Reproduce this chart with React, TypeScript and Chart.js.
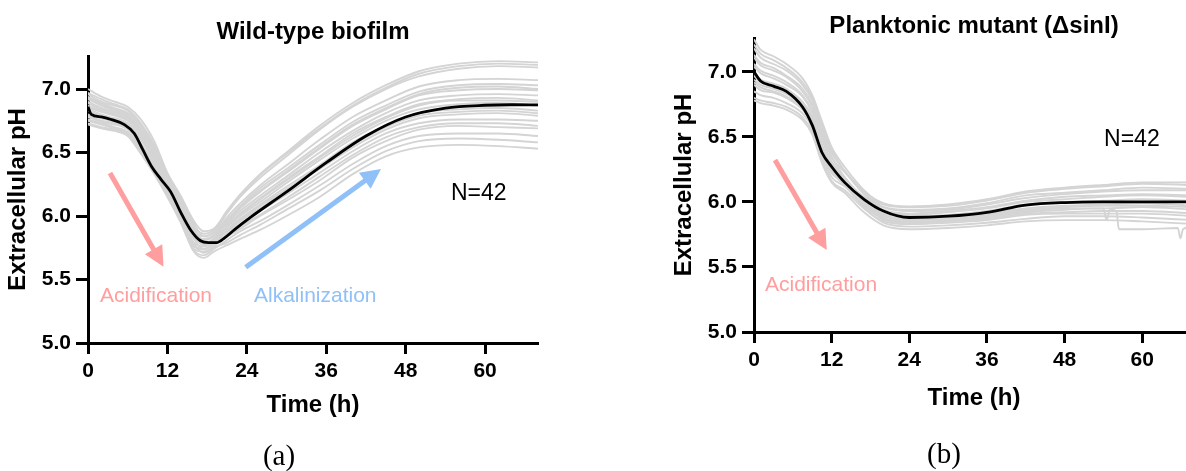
import React, { useEffect, useRef } from "react";
import { Chart, registerables } from "chart.js";

Chart.register(...registerables);

const FONT = '"Liberation Sans", Arial, Helvetica, sans-serif';
const PAGE_H = 471;
const X_AXIS_H = 50;

// ---------- axes ----------
const X_MIN = 0;
const X_MAX = 68;
const Y_MIN = 5.0;
const Y_MAX = 7.26;
const xTickValues = [0, 12, 24, 36, 48, 60];
const yTickValues = [5.0, 5.5, 6.0, 6.5, 7.0];

// ---------- wild-type biofilm ----------
const wtTimes = [0, 2, 4, 6, 8, 10, 12, 14, 16, 17.5, 19, 21, 23, 26, 30, 35, 40, 45, 50, 56, 62, 68];
const wtMeanTimes = [0, 0.5, 2, 3.5, 5.5, 7, 8.3, 9.6, 11, 12.5, 14, 15.5, 17, 18.2, 19.4, 20.7, 22.2, 24.7, 30, 36, 42, 48, 54, 60, 64, 68];
const wtMean = [6.86, 6.8, 6.78, 6.76, 6.72, 6.65, 6.52, 6.39, 6.29, 6.19, 6.03, 5.89, 5.805, 5.79, 5.79, 5.83, 5.895, 5.995, 6.19, 6.42, 6.63, 6.78, 6.85, 6.872, 6.876, 6.875];
// individual wells (pH at wtTimes)
const wtWells = [
  [6.96, 6.9, 6.87, 6.83, 6.72, 6.55, 6.31, 6.13, 5.92, 5.86, 5.89, 6.04, 6.17, 6.33, 6.5, 6.71, 6.89, 7.03, 7.14, 7.2, 7.22, 7.21],
  [7.0, 6.94, 6.9, 6.86, 6.76, 6.59, 6.34, 6.16, 5.96, 5.88, 5.9, 6.03, 6.16, 6.32, 6.49, 6.69, 6.87, 7.01, 7.12, 7.18, 7.2, 7.19],
  [6.92, 6.87, 6.83, 6.79, 6.68, 6.51, 6.28, 6.1, 5.89, 5.84, 5.87, 6.02, 6.15, 6.3, 6.47, 6.68, 6.86, 7.0, 7.1, 7.16, 7.18, 7.17],
  [6.89, 6.84, 6.81, 6.77, 6.65, 6.49, 6.26, 6.08, 5.86, 5.82, 5.85, 5.99, 6.1, 6.24, 6.4, 6.6, 6.78, 6.91, 7.02, 7.07, 7.08, 7.07],
  [6.97, 6.92, 6.88, 6.84, 6.73, 6.56, 6.32, 6.14, 5.94, 5.84, 5.87, 5.97, 6.08, 6.22, 6.37, 6.56, 6.74, 6.87, 6.98, 7.03, 7.04, 7.03],
  [6.85, 6.8, 6.77, 6.73, 6.61, 6.45, 6.24, 6.04, 5.83, 5.79, 5.82, 5.95, 6.06, 6.19, 6.34, 6.53, 6.71, 6.84, 6.95, 6.99, 7.0, 6.99],
  [6.93, 6.88, 6.84, 6.8, 6.69, 6.53, 6.29, 6.11, 5.9, 5.81, 5.84, 5.94, 6.04, 6.16, 6.31, 6.5, 6.67, 6.81, 6.91, 6.95, 6.96, 6.95],
  [6.8, 6.77, 6.74, 6.7, 6.57, 6.41, 6.21, 6.01, 5.79, 5.76, 5.8, 5.92, 6.02, 6.14, 6.29, 6.47, 6.65, 6.78, 6.88, 6.92, 6.93, 6.91],
  [6.87, 6.83, 6.8, 6.76, 6.64, 6.47, 6.25, 6.07, 5.85, 5.78, 5.82, 5.91, 6.0, 6.11, 6.26, 6.44, 6.61, 6.75, 6.84, 6.88, 6.89, 6.87],
  [6.78, 6.74, 6.72, 6.68, 6.54, 6.38, 6.19, 5.99, 5.77, 5.74, 5.78, 5.89, 5.98, 6.09, 6.23, 6.4, 6.58, 6.71, 6.81, 6.84, 6.85, 6.83],
  [6.9, 6.85, 6.82, 6.78, 6.67, 6.5, 6.27, 6.09, 5.88, 5.78, 5.81, 5.88, 5.96, 6.06, 6.2, 6.37, 6.54, 6.68, 6.77, 6.8, 6.81, 6.79],
  [6.75, 6.72, 6.69, 6.65, 6.52, 6.36, 6.17, 5.97, 5.74, 5.72, 5.76, 5.86, 5.94, 6.04, 6.17, 6.34, 6.51, 6.65, 6.73, 6.76, 6.76, 6.75],
  [6.83, 6.79, 6.76, 6.72, 6.6, 6.43, 6.23, 6.03, 5.82, 5.74, 5.78, 5.85, 5.92, 6.01, 6.14, 6.31, 6.48, 6.62, 6.7, 6.73, 6.73, 6.71],
  [6.73, 6.7, 6.68, 6.64, 6.5, 6.34, 6.16, 5.96, 5.73, 5.69, 5.74, 5.81, 5.88, 5.96, 6.08, 6.24, 6.41, 6.55, 6.63, 6.65, 6.65, 6.63],
  [6.79, 6.75, 6.73, 6.69, 6.56, 6.4, 6.2, 6.0, 5.78, 5.71, 5.75, 5.79, 5.85, 5.93, 6.05, 6.2, 6.37, 6.51, 6.59, 6.61, 6.6, 6.58],
  [6.72, 6.69, 6.67, 6.63, 6.49, 6.33, 6.15, 5.95, 5.72, 5.67, 5.72, 5.77, 5.82, 5.89, 6.0, 6.15, 6.33, 6.47, 6.54, 6.56, 6.55, 6.53],
  [6.89, 6.85, 6.81, 6.77, 6.66, 6.49, 6.27, 6.08, 5.87, 5.81, 5.84, 5.96, 6.07, 6.2, 6.35, 6.54, 6.72, 6.85, 6.96, 7.01, 7.02, 7.0],
  [6.76, 6.73, 6.7, 6.66, 6.53, 6.37, 6.18, 5.98, 5.76, 5.74, 5.78, 5.92, 6.01, 6.13, 6.28, 6.46, 6.63, 6.77, 6.87, 6.91, 6.91, 6.9],
  [6.86, 6.82, 6.79, 6.75, 6.63, 6.46, 6.25, 6.06, 5.84, 5.77, 5.8, 5.88, 5.97, 6.08, 6.21, 6.39, 6.56, 6.7, 6.79, 6.82, 6.83, 6.81],
  [6.94, 6.89, 6.85, 6.81, 6.71, 6.54, 6.3, 6.12, 5.91, 5.78, 5.81, 5.84, 5.9, 6.0, 6.12, 6.28, 6.46, 6.59, 6.68, 6.71, 6.7, 6.69],
];

// ---------- planktonic mutant ----------
const sinTimes = [0, 1, 3, 5, 7.5, 9, 10.5, 12, 14, 17, 20, 24, 30, 36, 42, 48, 54, 60, 68];
const sinMean = [7.0, 6.93, 6.89, 6.85, 6.73, 6.59, 6.38, 6.27, 6.15, 6.02, 5.93, 5.88, 5.89, 5.92, 5.975, 5.995, 6.0, 6.0, 6.0];
const sinWells = [
  [7.25, 7.17, 7.12, 7.06, 6.95, 6.82, 6.62, 6.42, 6.27, 6.09, 5.98, 5.96, 5.97, 6.01, 6.07, 6.1, 6.12, 6.14, 6.13],
  [7.18, 7.11, 7.06, 7.01, 6.9, 6.78, 6.57, 6.38, 6.24, 6.07, 5.96, 5.93, 5.94, 5.98, 6.03, 6.06, 6.08, 6.09, 6.09],
  [7.11, 7.05, 7.01, 6.96, 6.85, 6.73, 6.52, 6.34, 6.23, 6.08, 5.99, 5.965, 5.98, 6.02, 6.08, 6.11, 6.13, 6.15, 6.15],
  [7.06, 7.01, 6.97, 6.92, 6.82, 6.7, 6.49, 6.31, 6.19, 6.02, 5.91, 5.89, 5.9, 5.93, 5.98, 6.0, 6.01, 6.02, 6.01],
  [7.21, 7.14, 7.09, 7.03, 6.92, 6.8, 6.59, 6.4, 6.24, 6.06, 5.94, 5.91, 5.93, 5.96, 6.01, 6.04, 6.05, 6.06, 6.05],
  [6.99, 6.94, 6.91, 6.87, 6.77, 6.66, 6.44, 6.27, 6.17, 6.03, 5.93, 5.9, 5.92, 5.95, 6.0, 6.02, 6.04, 6.05, 6.04],
  [7.04, 6.99, 6.95, 6.9, 6.81, 6.69, 6.48, 6.3, 6.17, 6.0, 5.88, 5.85, 5.86, 5.89, 5.93, 5.95, 5.95, 5.96, 5.94],
  [6.94, 6.9, 6.87, 6.83, 6.74, 6.63, 6.41, 6.24, 6.15, 6.0, 5.9, 5.87, 5.88, 5.91, 5.95, 5.97, 5.98, 5.99, 5.97],
  [7.13, 7.07, 7.03, 6.97, 6.87, 6.75, 6.54, 6.35, 6.19, 6.0, 5.86, 5.83, 5.85, 5.87, 5.91, 5.92, 5.93, 5.93, 5.91],
  [6.9, 6.86, 6.84, 6.8, 6.71, 6.6, 6.38, 6.22, 6.16, 6.04, 5.96, 5.94, 5.95, 5.99, 6.05, 6.07, 6.09, 6.11, 6.1],
  [6.85, 6.82, 6.8, 6.76, 6.68, 6.57, 6.35, 6.19, 6.12, 5.98, 5.89, 5.86, 5.87, 5.9, 5.94, 5.96, 5.97, 5.97, 5.96],
  [6.97, 6.92, 6.89, 6.85, 6.76, 6.64, 6.43, 6.26, 6.13, 5.96, 5.84, 5.81, 5.82, 5.84, 5.87, 5.89, 5.89, 5.88, 5.86],
  [6.8, 6.78, 6.76, 6.73, 6.65, 6.54, 6.32, 6.16, 6.09, 5.95, 5.85, 5.83, 5.84, 5.86, 5.9, 5.91, 5.91, 5.91, 5.89],
  [6.78, 6.76, 6.74, 6.71, 6.63, 6.52, 6.3, 6.15, 6.07, 5.92, 5.82, 5.79, 5.8, 5.82, 5.85, 5.86, 5.86, 5.85, 5.83],
];
// one well with a late sensor glitch
const sinGlitchTimes = [0, 1, 3, 5, 7.5, 9, 10.5, 12, 14, 17, 20, 24, 30, 36, 42, 48, 54, 54.5, 55, 56, 56.4, 60, 65.5, 65.9, 66.3, 68];
const sinGlitch = [6.92, 6.88, 6.85, 6.81, 6.73, 6.61, 6.4, 6.23, 6.13, 5.97, 5.87, 5.84, 5.85, 5.88, 5.92, 5.94, 5.95, 5.86, 5.94, 5.93, 5.79, 5.79, 5.8, 5.72, 5.79, 5.81];

// ---------- styling ----------
const WELL_GREY = "#d4d4d4";
const WELL_WIDTH = 1.9;
const MEAN_WIDTH = 2.8;
const ACID = "#ff9e9e";
const ALKA = "#8fc0f7";
const ARROW_SHAFT = 5;
const ARROW_HEAD_LEN = 20;
const ARROW_HEAD_HALF = 10;

type Pt = [number, number];
interface Arrow { from: Pt; to: Pt; color: string }
interface Note { text: string; at: Pt; color: string; size: number }
interface Series { times: number[]; values: number[]; mean?: boolean }
interface PanelSpec {
  canvasLeft: number;
  canvasWidth: number;
  plot: { left: number; right: number; top: number; bottom: number };
  title: string;
  titleY: number;
  xTitleGap: number;
  yTitleGap: number;
  series: Series[];
  arrows: Arrow[];
  notes: Note[];
}

const wtPanel: PanelSpec = {
  canvasLeft: 0,
  canvasWidth: 560,
  plot: { left: 88, right: 538, top: 56, bottom: 343 },
  title: "Wild-type biofilm",
  titleY: 32.5,
  xTitleGap: 62,
  yTitleGap: 70,
  series: [
    { times: wtMeanTimes, values: wtMean, mean: true },
    ...wtWells.map((w) => ({ times: wtTimes, values: w })),
  ],
  arrows: [
    { from: [3.32, 6.339], to: [11.41, 5.601], color: ACID },
    { from: [23.83, 5.596], to: [44.27, 6.37], color: ALKA },
  ],
  notes: [
    { text: "N=42", at: [54.85, 6.176], color: "#000", size: 23 },
    { text: "Acidification", at: [1.81, 5.372], color: ACID, size: 21 },
    { text: "Alkalinization", at: [25.08, 5.372], color: ALKA, size: 21 },
  ],
};

const sinPanel: PanelSpec = {
  canvasLeft: 600,
  canvasWidth: 620,
  plot: { left: 154, right: 594, top: 38, bottom: 332 },
  title: "Planktonic mutant (\u0394sinI)",
  titleY: 26,
  xTitleGap: 66,
  yTitleGap: 70,
  series: [
    { times: sinTimes, values: sinMean, mean: true },
    ...sinWells.map((w) => ({ times: sinTimes, values: w })),
    { times: sinGlitchTimes, values: sinGlitch },
  ],
  arrows: [{ from: [3.25, 6.322], to: [11.24, 5.63], color: ACID }],
  notes: [
    { text: "N=42", at: [54.1, 6.48], color: "#000", size: 23 },
    { text: "Acidification", at: [1.7, 5.358], color: ACID, size: 21 },
  ],
};

function toPoints(times: number[], values: number[]) {
  return times.map((t, i) => ({ x: t, y: values[i] }));
}

function makeDecorations(spec: PanelSpec) {
  return {
    id: "decorations",
    afterDatasetsDraw(chart: any) {
      const { ctx, scales } = chart;
      const xs = scales.x;
      const ys = scales.y;
      ctx.save();
      for (const a of spec.arrows) {
        const x0 = xs.getPixelForValue(a.from[0]);
        const y0 = ys.getPixelForValue(a.from[1]);
        const x1 = xs.getPixelForValue(a.to[0]);
        const y1 = ys.getPixelForValue(a.to[1]);
        const ang = Math.atan2(y1 - y0, x1 - x0);
        const c = Math.cos(ang);
        const s = Math.sin(ang);
        const bx = x1 - ARROW_HEAD_LEN * c;
        const by = y1 - ARROW_HEAD_LEN * s;
        ctx.strokeStyle = a.color;
        ctx.lineWidth = ARROW_SHAFT;
        ctx.lineCap = "butt";
        ctx.beginPath();
        ctx.moveTo(x0, y0);
        ctx.lineTo(bx + c, by + s);
        ctx.stroke();
        ctx.fillStyle = a.color;
        ctx.beginPath();
        ctx.moveTo(x1, y1);
        ctx.lineTo(bx + ARROW_HEAD_HALF * s, by - ARROW_HEAD_HALF * c);
        ctx.lineTo(bx - ARROW_HEAD_HALF * s, by + ARROW_HEAD_HALF * c);
        ctx.closePath();
        ctx.fill();
      }
      ctx.textAlign = "left";
      ctx.textBaseline = "middle";
      for (const n of spec.notes) {
        ctx.font = `${n.size}px ${FONT}`;
        ctx.fillStyle = n.color;
        ctx.fillText(n.text, xs.getPixelForValue(n.at[0]), ys.getPixelForValue(n.at[1]));
      }
      ctx.restore();
    },
    afterDraw(chart: any) {
      const { ctx, chartArea: ca } = chart;
      ctx.save();
      ctx.fillStyle = "#000";
      ctx.font = `bold 24px ${FONT}`;
      ctx.textAlign = "center";
      ctx.textBaseline = "middle";
      const cx = (ca.left + ca.right) / 2;
      ctx.fillText(spec.title, cx, spec.titleY);
      ctx.fillText("Time (h)", cx, ca.bottom + spec.xTitleGap);
      ctx.translate(ca.left - spec.yTitleGap, (ca.top + ca.bottom) / 2);
      ctx.rotate(-Math.PI / 2);
      ctx.fillText("Extracellular pH", 0, 0);
      ctx.restore();
    },
  };
}

function PhPanel({ spec }: { spec: PanelSpec }) {
  const ref = useRef<HTMLCanvasElement>(null);

  useEffect(() => {
    const canvas = ref.current;
    if (!canvas) return;
    const tickFont = { family: FONT, size: 21, weight: "bold" as const };
    const datasets = spec.series.map((s) => ({
      data: toPoints(s.times, s.values),
      borderColor: s.mean ? "#000" : WELL_GREY,
      borderWidth: s.mean ? MEAN_WIDTH : WELL_WIDTH,
      order: s.mean ? 0 : 1,
      pointRadius: 0,
      fill: false,
      cubicInterpolationMode: "monotone" as const,
    }));
    const chart = new Chart(canvas, {
      type: "line",
      data: { datasets },
      plugins: [makeDecorations(spec)],
      options: {
        animation: false,
        responsive: false,
        devicePixelRatio: 1,
        events: [],
        layout: {
          padding: {
            left: 0,
            top: spec.plot.top,
            right: spec.canvasWidth - spec.plot.right,
            bottom: PAGE_H - spec.plot.bottom - X_AXIS_H,
          },
        },
        plugins: {
          legend: { display: false },
          tooltip: { enabled: false },
          title: { display: false },
        },
        scales: {
          x: {
            type: "linear",
            min: X_MIN,
            max: X_MAX,
            afterBuildTicks: (s: any) => {
              s.ticks = xTickValues.map((v) => ({ value: v }));
            },
            afterFit: (s: any) => {
              s.height = X_AXIS_H;
            },
            grid: {
              drawOnChartArea: false,
              drawTicks: true,
              tickLength: 11,
              tickWidth: 3,
              tickColor: "#000",
            },
            border: { display: true, color: "#000", width: 3 },
            ticks: {
              color: "#000",
              font: tickFont,
              padding: 5,
              maxRotation: 0,
              autoSkip: false,
              callback: (v: any) => String(v),
            },
          },
          y: {
            type: "linear",
            min: Y_MIN,
            max: Y_MAX,
            afterBuildTicks: (s: any) => {
              s.ticks = yTickValues.map((v) => ({ value: v }));
            },
            afterFit: (s: any) => {
              s.width = spec.plot.left;
            },
            grid: {
              drawOnChartArea: false,
              drawTicks: true,
              tickLength: 12,
              tickWidth: 3,
              tickColor: "#000",
            },
            border: { display: true, color: "#000", width: 3 },
            ticks: {
              color: "#000",
              font: tickFont,
              padding: 5,
              autoSkip: false,
              callback: (v: any) => Number(v).toFixed(1),
            },
          },
        },
      } as any,
    });
    return () => chart.destroy();
  }, [spec]);

  return (
    <canvas
      ref={ref}
      width={spec.canvasWidth}
      height={PAGE_H}
      style={{
        position: "absolute",
        left: spec.canvasLeft,
        top: 0,
        width: spec.canvasWidth,
        height: PAGE_H,
      }}
    />
  );
}

function Caption({ text, cx, top }: { text: string; cx: number; top: number }) {
  return (
    <div
      style={{
        position: "absolute",
        left: cx - 50,
        top,
        width: 100,
        height: 32,
        lineHeight: "32px",
        textAlign: "center",
        fontFamily: '"Liberation Serif", "Times New Roman", serif',
        fontSize: 29,
        color: "#000",
      }}
    >
      {text}
    </div>
  );
}

export default function App() {
  return (
    <div
      style={{
        position: "fixed",
        left: 0,
        top: 0,
        width: 1186,
        height: PAGE_H,
        overflow: "hidden",
        background: "#fff",
      }}
    >
      <PhPanel spec={wtPanel} />
      <PhPanel spec={sinPanel} />
      <Caption text="(a)" cx={279} top={439} />
      <Caption text="(b)" cx={944} top={437} />
    </div>
  );
}
